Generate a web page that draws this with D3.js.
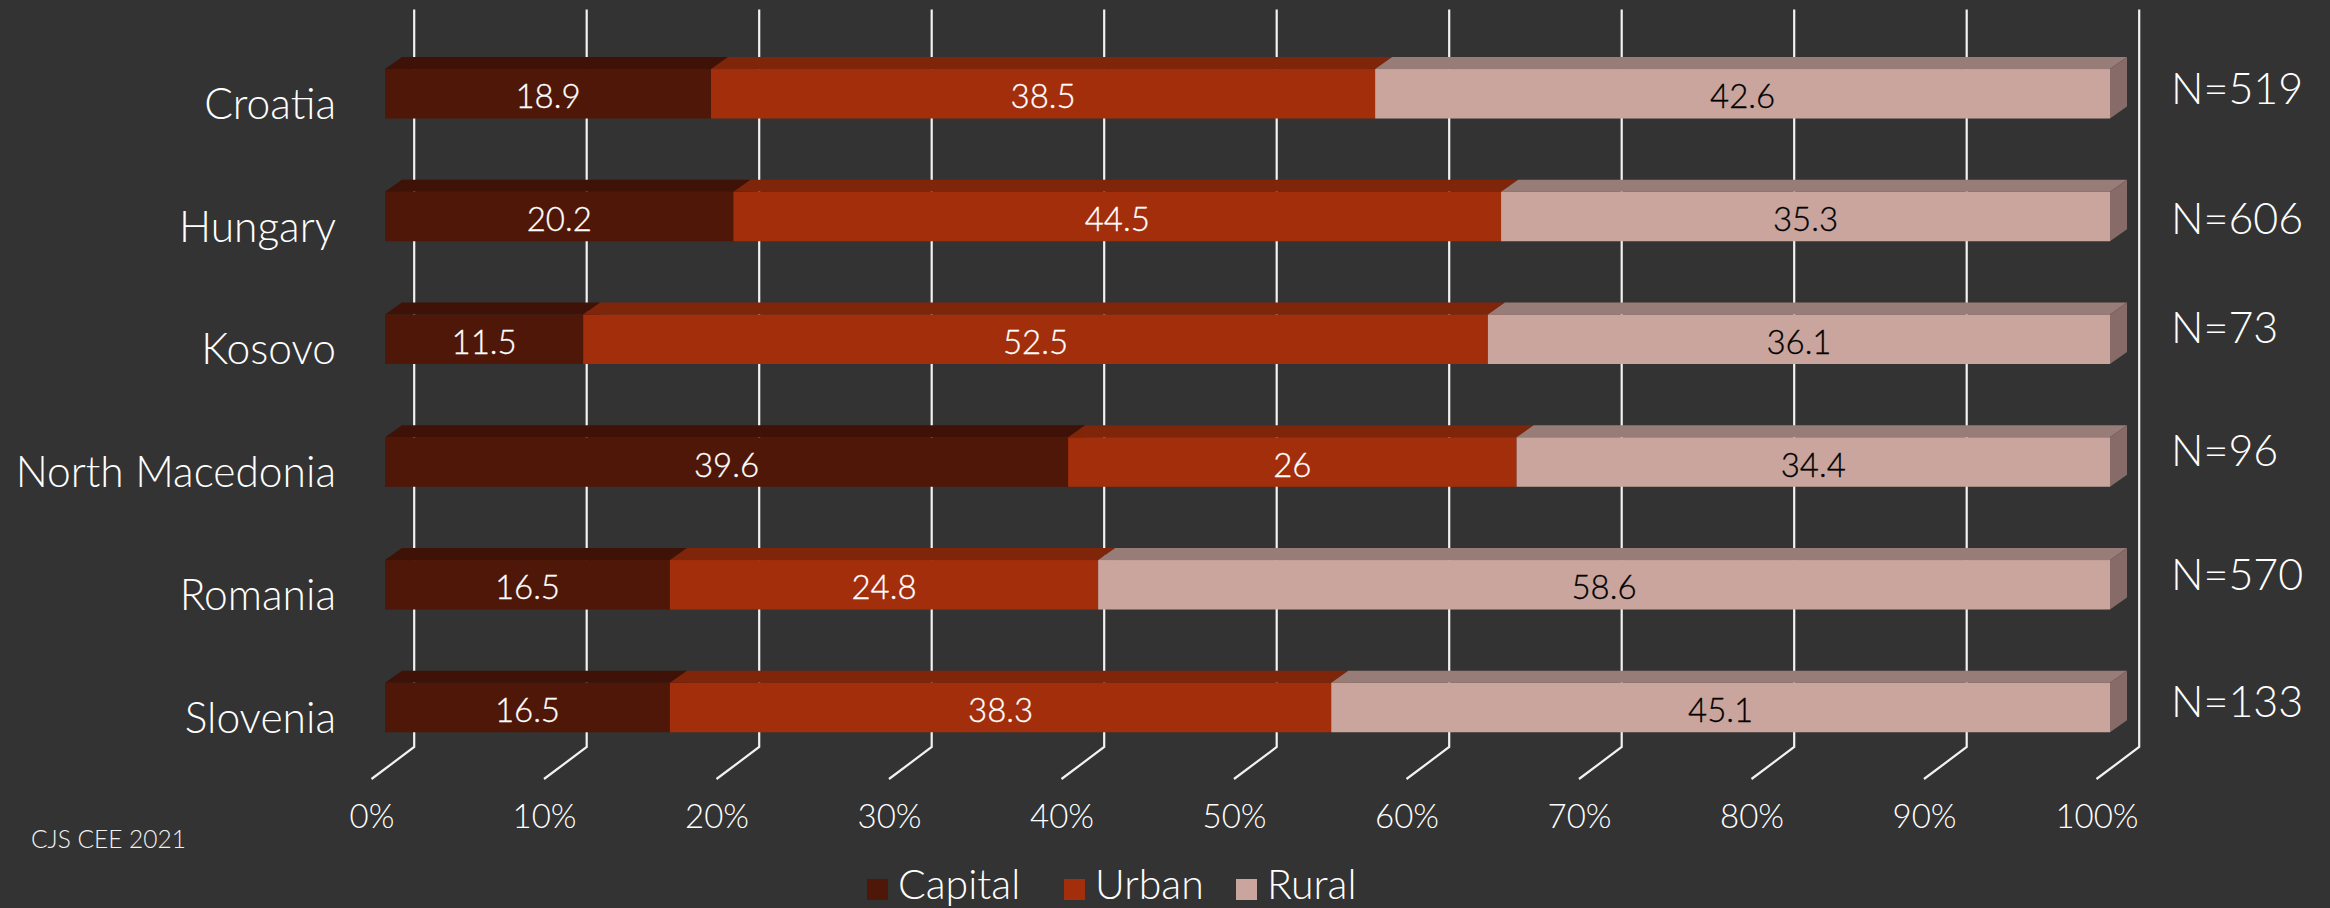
<!DOCTYPE html>
<html>
<head>
<meta charset="utf-8">
<script src="https://cdn.jsdelivr.net/npm/d3@7"></script>
<style>
  html, body { margin: 0; padding: 0; background: #333333; overflow: hidden; }
  svg { display: block; }
  text { font-family: "Lato", "Open Sans", sans-serif; font-weight: 300; }
</style>
</head>
<body>
<div id="chart"></div>
<script>
const countries = ['Croatia', 'Hungary', 'Kosovo', 'North Macedonia', 'Romania', 'Slovenia'];
const series = ['Capital', 'Urban', 'Rural'];
const capital = [18.9, 20.2, 11.5, 39.6, 16.5, 16.5];
const urban = [38.5, 44.5, 52.5, 26, 24.8, 38.3];
const rural = [42.6, 35.3, 36.1, 34.4, 58.6, 45.1];
const sampleSizes = [519, 606, 73, 96, 570, 133];
const xTicks = [0, 0.1, 0.2, 0.3, 0.4, 0.5, 0.6, 0.7, 0.8, 0.9, 1];

// Vertical nudge of each N= label from its bar, they are not lined up in the original
const sampleNudge = [0, 7, -7, -6, -5, -1];

const width = 2330;
const height = 908;

// 3D look: depth of a bar, and of the floor/wall behind the bars
const barDepth = { x: 17, y: 12 };
const wallDepth = { x: 29, y: -32 };

const frontColors = { Capital: '#4E1707', Urban: '#A32E0C', Rural: '#C9A59E' };
const topColors = { Capital: '#3E1206', Urban: '#7F250A', Rural: '#977C77' };
const sideColors = { Capital: '#351005', Urban: '#6E2008', Rural: '#866B68' };
const labelColors = { Capital: '#FFFFFF', Urban: '#FFFFFF', Rural: '#000000' };
const gridColor = '#F2F2F2';

const svg = d3.select('#chart')
    .append('svg')
    .attr('width', width)
    .attr('height', height);

const rows = countries.map((c, i) => ({ country: c, Capital: capital[i], Urban: urban[i], Rural: rural[i] }));

// The original is a 100% stacked bar, rows that add up to 99.9 still fill the width
const stacked = d3.stack().keys(series).offset(d3.stackOffsetExpand)(rows);

const x = d3.scaleLinear().domain([0, 1]).range([385, 2110]);
const xFloor = d3.scaleLinear().domain([0, 1]).range([371.5, 2096.5]);

const y = d3.scaleBand()
    .domain(countries)
    .range([32.4, 768.9])
    .paddingInner(0.597)
    .paddingOuter(0.2985);

// Gridlines on the back wall with the diagonal on the floor
const floorY = 779;
const grid = svg.append('g').attr('class', 'grid');
grid.selectAll('path')
    .data(xTicks)
    .enter()
    .append('path')
    .attr('d', d => {
        const fx = xFloor(d);
        const bx = fx + 42.7;
        return `M${bx},9.5 L${bx},${floorY + wallDepth.y} L${fx},${floorY}`;
    })
    .attr('fill', 'none')
    .attr('stroke', gridColor)
    .attr('stroke-width', 2.2);

// Bars
stacked.forEach(layer => {
    const key = layer.key;
    const g = svg.append('g').attr('class', `layer-${key}`);

    g.selectAll('.top')
        .data(layer)
        .enter()
        .append('polygon')
        .attr('class', 'top')
        .attr('points', d => {
            const x0 = x(d[0]), x1 = x(d[1]), t = y(d.data.country);
            return [[x0, t], [x0 + barDepth.x, t - barDepth.y], [x1 + barDepth.x, t - barDepth.y], [x1, t]].join(' ');
        })
        .attr('fill', topColors[key]);

    g.selectAll('.side')
        .data(layer)
        .enter()
        .append('polygon')
        .attr('class', 'side')
        .attr('points', d => {
            const x1 = x(d[1]), t = y(d.data.country), b = t + y.bandwidth();
            return [[x1, t], [x1 + barDepth.x, t - barDepth.y], [x1 + barDepth.x, b - barDepth.y], [x1, b]].join(' ');
        })
        .attr('fill', sideColors[key]);

    g.selectAll('.front')
        .data(layer)
        .enter()
        .append('rect')
        .attr('class', 'front')
        .attr('x', d => x(d[0]))
        .attr('y', d => y(d.data.country))
        .attr('width', d => x(d[1]) - x(d[0]))
        .attr('height', y.bandwidth())
        .attr('fill', frontColors[key]);

    g.selectAll('.value')
        .data(layer)
        .enter()
        .append('text')
        .attr('class', 'value')
        .attr('x', d => (x(d[0]) + x(d[1])) / 2)
        .attr('y', d => y(d.data.country) + y.bandwidth() / 2 + 14.5)
        .attr('text-anchor', 'middle')
        .attr('font-size', 33)
        .attr('fill', labelColors[key])
        .attr('stroke', labelColors[key])
        .attr('stroke-width', 0.3)
        .text(d => d.data[key]);
});

// Country labels
svg.append('g').selectAll('text')
    .data(countries)
    .enter()
    .append('text')
    .attr('x', 336)
    .attr('y', d => y(d) + y.bandwidth() / 2 + 25)
    .attr('text-anchor', 'end')
    .attr('font-size', 42.5)
    .attr('fill', '#FFFFFF')
    .text(d => d);

// X axis labels
const xAxis = d3.axisBottom(xFloor)
    .tickValues(xTicks)
    .tickFormat(d3.format('.0%'))
    .tickSize(0)
    .tickPadding(0);

const axisG = svg.append('g')
    .attr('transform', 'translate(0,805)')
    .call(xAxis);
axisG.select('.domain').remove();
axisG.selectAll('text')
    .attr('font-size', 33)
    .attr('font-family', null)
    .attr('fill', '#FFFFFF');

// N= labels
svg.append('g').selectAll('text')
    .data(sampleSizes)
    .enter()
    .append('text')
    .attr('x', 2171)
    .attr('y', (d, i) => y(countries[i]) + 35 + sampleNudge[i])
    .attr('font-size', 43)
    .attr('fill', '#FFFFFF')
    .text(d => `N=${d}`);

// Source note
svg.append('text')
    .attr('x', 31)
    .attr('y', 848)
    .attr('font-size', 24.5)
    .attr('fill', '#F2F2F2')
    .text('CJS CEE 2021');

// Legend
const legendX = [867, 1064, 1236];
const legend = svg.append('g').selectAll('g')
    .data(series)
    .enter()
    .append('g')
    .attr('transform', (d, i) => `translate(${legendX[i]},879)`);
legend.append('rect')
    .attr('width', 21)
    .attr('height', 21)
    .attr('fill', d => frontColors[d]);
legend.append('text')
    .attr('x', 31)
    .attr('y', 20)
    .attr('font-size', 41)
    .attr('fill', '#FFFFFF')
    .text(d => d);
</script>
</body>
</html>
